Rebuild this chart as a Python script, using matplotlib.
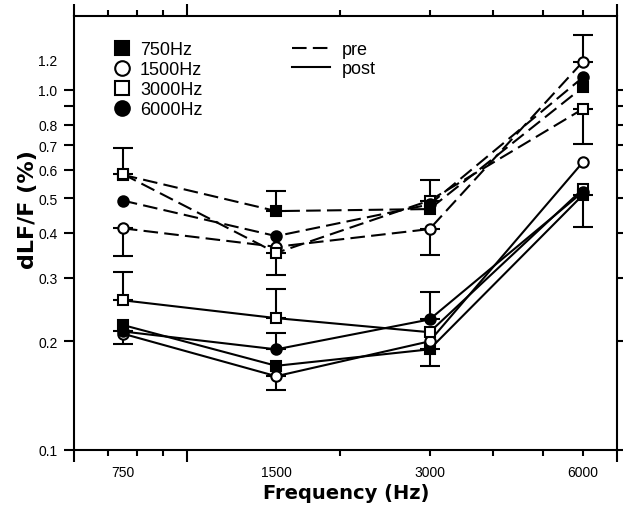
import matplotlib
matplotlib.use('Agg')
import matplotlib.pyplot as plt
import matplotlib.ticker as ticker
from matplotlib.lines import Line2D
import numpy as np

# ── Data ──────────────────────────────────────────────────────────────────────
freqs       = [750, 1500, 3000, 6000]
freq_labels = ['750', '1500', '3000', '6000']

pre_750   = [0.580, 0.460, 0.466, 1.016]
pre_1500  = [0.412, 0.366, 0.410, 1.196]
pre_3000  = [0.583, 0.352, 0.492, 0.884]
pre_6000  = [0.492, 0.392, 0.480, 1.082]

post_750  = [0.222, 0.171, 0.190, 0.510]
post_1500 = [0.210, 0.160, 0.200, 0.629]
post_3000 = [0.260, 0.232, 0.212, 0.530]
post_6000 = [0.213, 0.190, 0.230, 0.520]

# error bars: frequency, mean value, end of the bar
err_freq = [750, 750, 750, 750, 1500, 1500, 1500, 1500, 1500,
            3000, 3000, 3000, 3000, 6000, 6000, 6000]
err_mean = [0.583, 0.412, 0.260, 0.213, 0.460, 0.352, 0.232, 0.190, 0.160,
            0.492, 0.410, 0.230, 0.190, 1.196, 0.884, 0.510]
err_tip  = [0.687, 0.346, 0.312, 0.197, 0.524, 0.306, 0.2795, 0.211, 0.1465,
            0.562, 0.347, 0.274, 0.171, 1.419, 0.706, 0.415]

ytick_vals   = [0.1, 0.2, 0.3, 0.4, 0.5, 0.6, 0.7, 0.8, 0.9, 1.0]
ytick_labels = ['0.1', '0.2', '0.3', '0.4', '0.5', '0.6', '0.7', '0.8', '', '1.0']

LEG_NAMES = ['750Hz', '1500Hz', '3000Hz', '6000Hz']
MARKERS   = ['s', 'o', 's', 'o']
FACES     = ['black', 'white', 'white', 'black']
DASH      = (0, (7, 3))

plt.rcParams['font.family'] = ['Liberation Sans', 'DejaVu Sans']

fig = plt.figure(figsize=(6.23, 5.10), dpi=100)
ax = fig.add_axes([73.5 / 623, 59.3 / 510, 543.5 / 623, 434 / 510])

# ── Lines ─────────────────────────────────────────────────────────────────────
pre_all  = [pre_750, pre_1500, pre_3000, pre_6000]
post_all = [post_750, post_1500, post_3000, post_6000]
for m, fc, pre, post in zip(MARKERS, FACES, pre_all, post_all):
    for vals, ls in [(pre, DASH), (post, '-')]:
        ax.plot(freqs, vals, color='black', lw=1.5, ls=ls, marker=m, ms=7.5,
                mfc=fc, mec='black', mew=1.5, zorder=3)

# ── Error bars (one-sided) ────────────────────────────────────────────────────
mean = np.array(err_mean)
tip  = np.array(err_tip)
lo = np.where(tip < mean, mean - tip, 0)
hi = np.where(tip > mean, tip - mean, 0)
ax.errorbar(err_freq, err_mean, yerr=[lo, hi], fmt='none', ecolor='black',
            elinewidth=1.5, capsize=7, capthick=1.5, zorder=2)

# ── Axes ──────────────────────────────────────────────────────────────────────
ax.set_xscale('log')
ax.set_yscale('log')
ax.set_xlim(600, 7000)
ax.set_ylim(0.1, 1.605)

ax.xaxis.set_major_locator(ticker.FixedLocator([600, 1000, 7000]))
ax.xaxis.set_minor_locator(ticker.FixedLocator([700, 800, 900, 2000, 3000, 4000, 5000, 6000]))
ax.xaxis.set_major_formatter(ticker.NullFormatter())
ax.xaxis.set_minor_formatter(ticker.NullFormatter())
ax.tick_params(axis='x', which='major', direction='out', length=8.5, width=1.5,
               top=True, bottom=True)
ax.tick_params(axis='x', which='minor', direction='out', length=4.5, width=1.5,
               top=True, bottom=True)

ax.yaxis.set_major_locator(ticker.FixedLocator(ytick_vals))
ax.yaxis.set_minor_locator(ticker.NullLocator())
ax.set_yticklabels(ytick_labels)
ax.tick_params(axis='y', which='major', direction='out', length=7.5, width=1.5,
               left=True, right=True, labelsize=10, pad=4)

for sp in ax.spines.values():
    sp.set_linewidth(1.5)

# x labels sit under the data columns, not on ticks
for f, lab in zip(freqs, freq_labels):
    ax.text(f, -0.0514, lab, transform=ax.get_xaxis_transform(),
            ha='center', va='center', fontsize=10)
# 1.2 label has no tick mark in the original
ax.text(-0.0304, 1.2, '1.2', transform=ax.get_yaxis_transform(),
        ha='right', va='center', fontsize=10)

fig.text(346 / 623, 1 - 494 / 510, 'Frequency (Hz)', ha='center', va='center',
         fontsize=14, fontweight='bold', family='DejaVu Sans')
fig.text(28 / 623, 1 - 210 / 510, 'dLF/F (%)', ha='center', va='center',
         rotation=90, fontsize=16, fontweight='bold', family='DejaVu Sans')

# ── Legends ───────────────────────────────────────────────────────────────────
mk_handles = [Line2D([], [], ls='none', marker=m, ms=10.5, mfc=fc, mec='black', mew=1.5)
              for m, fc in zip(MARKERS, FACES)]
leg1 = ax.legend(mk_handles, LEG_NAMES, loc='upper left', bbox_to_anchor=(0.0727, 0.942),
                 frameon=False, borderpad=0, borderaxespad=0, handlelength=1.0,
                 handletextpad=0.5, labelspacing=0.17, fontsize=13)
ax.add_artist(leg1)

ls_handles = [Line2D([], [], color='black', lw=1.5, ls=DASH),
              Line2D([], [], color='black', lw=1.5, ls='-')]
ax.legend(ls_handles, ['pre', 'post'], loc='upper left', bbox_to_anchor=(0.4024, 0.942),
          frameon=False, borderpad=0, borderaxespad=0, handlelength=2.1,
          handletextpad=0.67, labelspacing=0.12, fontsize=13)

plt.savefig('out.png', dpi=100)
plt.close()
